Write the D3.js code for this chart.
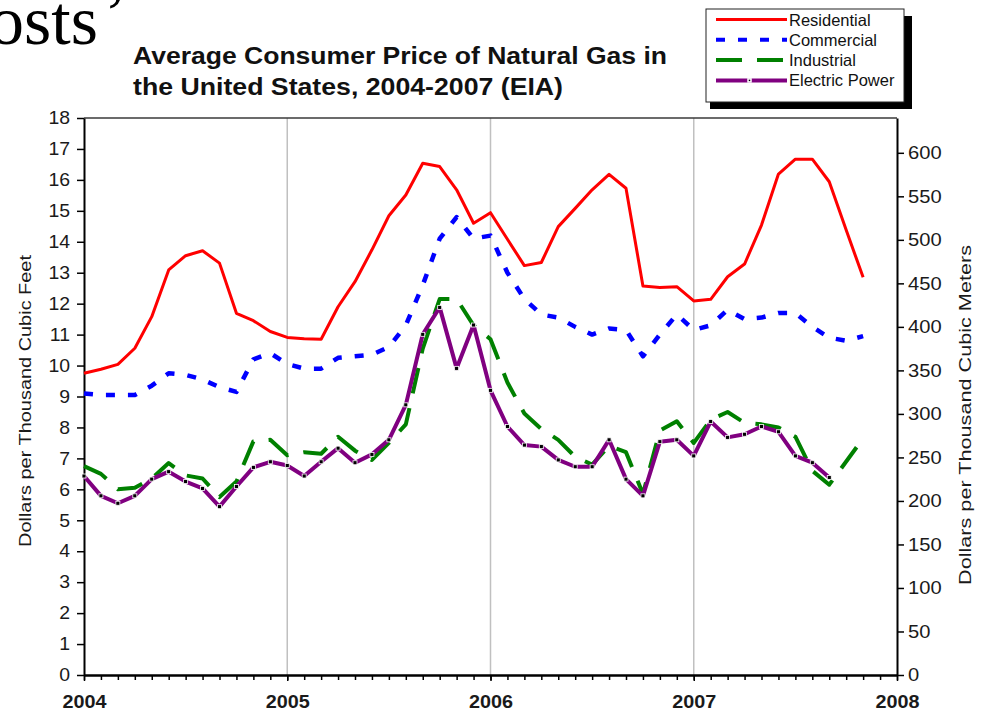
<!DOCTYPE html>
<html>
<head>
<meta charset="utf-8">
<script src="https://cdn.jsdelivr.net/npm/d3@7"></script>
<style>
  body { margin: 0; background: #fff; }
  svg { display: block; font-family: 'Liberation Sans', Arial, sans-serif; }
</style>
</head>
<body>
<div id="chart"></div>
<script>
// monthly prices, dollars per thousand cubic feet, starting Jan 2004
var yearLabels = ['2004', '2005', '2006', '2007', '2008'];
var seriesNames = ['Residential', 'Commercial', 'Industrial', 'Electric Power'];

var residential = [9.75, 9.88, 10.04, 10.56, 11.58, 13.09, 13.55, 13.71, 13.31, 11.69, 11.45, 11.10,
  10.91, 10.87, 10.85, 11.90, 12.71, 13.74, 14.84, 15.51, 16.54, 16.43, 15.68, 14.60,
  14.94, 14.08, 13.23, 13.33, 14.49, 15.08, 15.68, 16.18, 15.73, 12.57, 12.52, 12.55,
  12.09, 12.14, 12.87, 13.28, 14.54, 16.19, 16.67, 16.67, 15.94, 14.38, 12.85];

var commercial = [9.10, 9.05, 9.05, 9.05, 9.35, 9.75, 9.70, 9.55, 9.30, 9.15, 10.20, 10.40,
  10.05, 9.90, 9.90, 10.25, 10.30, 10.35, 10.60, 11.30, 12.60, 14.10, 14.80, 14.10,
  14.20, 13.00, 12.15, 11.65, 11.55, 11.25, 11.00, 11.20, 11.15, 10.30, 11.00, 11.65,
  11.15, 11.30, 11.80, 11.50, 11.55, 11.70, 11.70, 11.25, 10.90, 10.80, 10.95];

var industrial = [6.75, 6.50, 6.00, 6.05, 6.35, 6.85, 6.45, 6.35, 5.75, 6.25, 7.55, 7.60,
  7.10, 7.20, 7.15, 7.70, 7.25, 6.95, 7.50, 8.10, 10.55, 12.15, 12.15, 11.30,
  10.85, 9.45, 8.45, 7.95, 7.60, 7.05, 6.80, 7.40, 7.20, 5.85, 7.90, 8.20,
  7.50, 8.25, 8.50, 8.15, 8.10, 8.00, 7.70, 6.60, 6.15, 6.90, 7.65];

var electricPower = [6.43, 5.79, 5.55, 5.79, 6.33, 6.57, 6.25, 6.03, 5.44, 6.09, 6.71, 6.89,
  6.77, 6.43, 6.89, 7.33, 6.86, 7.13, 7.60, 8.73, 11.01, 11.88, 9.91, 11.31,
  9.20, 8.03, 7.43, 7.38, 6.95, 6.73, 6.73, 7.60, 6.33, 5.79, 7.54, 7.60,
  7.08, 8.19, 7.68, 7.78, 8.03, 7.86, 7.08, 6.86, 6.38];

var leftTicks = d3.range(0, 19, 1);
var rightTicks = d3.range(0, 601, 50);

var width = 985, height = 712;
var plot = {left: 84, right: 897, top: 118, bottom: 675};
var stretch = 1.08; // the source picture is a little wider than tall

var svg = d3.select('#chart').append('svg')
    .attr('width', width)
    .attr('height', height);

var x = d3.scaleLinear().domain([0, 48]).range([plot.left, plot.right]),
    y = d3.scaleLinear().domain([0, 18]).range([plot.bottom, plot.top]),
    yRight = d3.scaleLinear().domain([0, 640]).range([plot.bottom, plot.top]);

var series = [
  {name: seriesNames[0], values: residential, color: '#ff0000', width: 3, dash: null},
  {name: seriesNames[1], values: commercial, color: '#0000ff', width: 4.5, dash: '9,13'},
  {name: seriesNames[2], values: industrial, color: '#008000', width: 4, dash: '26,15'},
  {name: seriesNames[3], values: electricPower, color: '#800080', width: 4, dash: null, markers: true}
];

// slide text behind the chart, cut off at the left
var slideText = svg.append('text')
    .attr('transform', 'translate(-11,44)')
    .style('font-family', "'Liberation Serif', 'Times New Roman', serif")
    .style('font-size', '70px');
slideText.append('tspan').text('osts');
slideText.append('tspan').attr('dx', 6).attr('dy', -7).text('\u2019');

// title
var title = svg.append('g').style('font-weight', 'bold').style('font-size', '23.5px').style('fill', '#111');
title.append('text').attr('x', 133).attr('y', 64)
    .attr('textLength', 534).attr('lengthAdjust', 'spacingAndGlyphs')
    .text('Average Consumer Price of Natural Gas in');
title.append('text').attr('x', 133).attr('y', 95)
    .attr('textLength', 430).attr('lengthAdjust', 'spacingAndGlyphs')
    .text('the United States, 2004-2007 (EIA)');

// year gridlines
svg.append('g').selectAll('line')
    .data([12, 24, 36])
  .enter().append('line')
    .attr('x1', function(d) { return x(d); })
    .attr('x2', function(d) { return x(d); })
    .attr('y1', plot.top)
    .attr('y2', plot.bottom)
    .style('stroke', '#c0c0c0')
    .style('stroke-width', 1.5);

// top border
svg.append('line')
    .attr('x1', plot.left).attr('x2', plot.right)
    .attr('y1', plot.top).attr('y2', plot.top)
    .style('stroke', '#3a3a3a')
    .style('stroke-width', 1.5);

// axes
var leftAxis = svg.append('g')
    .attr('transform', 'translate(' + plot.left + ',0)')
    .call(d3.axisLeft(y).tickValues(leftTicks).tickSize(7).tickSizeOuter(0).tickPadding(7));

var rightAxis = svg.append('g')
    .attr('transform', 'translate(' + plot.right + ',0)')
    .call(d3.axisRight(yRight).tickValues(rightTicks).tickSize(7).tickSizeOuter(0).tickPadding(4));

var minorAxis = svg.append('g')
    .attr('transform', 'translate(0,' + plot.bottom + ')')
    .call(d3.axisBottom(x).tickValues(d3.range(0, 49)).tickSize(5).tickSizeOuter(0).tickFormat(''));

var bottomAxis = svg.append('g')
    .attr('transform', 'translate(0,' + plot.bottom + ')')
    .call(d3.axisBottom(x).tickValues([0, 12, 24, 36, 48]).tickSize(6).tickSizeOuter(0).tickPadding(14)
      .tickFormat(function(d) { return yearLabels[d / 12]; }));

[leftAxis, rightAxis, minorAxis, bottomAxis].forEach(function(a) {
  a.select('.domain').style('stroke', '#000').style('stroke-width', 2);
  a.selectAll('.tick line').style('stroke', '#000').style('stroke-width', 1.5);
  a.selectAll('.tick text')
      .style('font-family', "'Liberation Sans', Arial, sans-serif")
      .style('font-size', '18px')
      .style('fill', '#1a1a1a');
});

leftAxis.selectAll('.tick text').attr('transform', 'scale(' + stretch + ',1)').attr('x', -14 / stretch);
rightAxis.selectAll('.tick text').attr('transform', 'scale(1.12,1)').attr('x', 11 / 1.12);
bottomAxis.selectAll('.tick text')
    .style('font-weight', 'bold')
    .attr('transform', 'scale(1.1,1)');

// axis titles
svg.append('text')
    .attr('transform', 'translate(31,401) rotate(-90)')
    .attr('text-anchor', 'middle')
    .attr('textLength', 292).attr('lengthAdjust', 'spacingAndGlyphs')
    .style('font-size', '17px')
    .style('fill', '#1a1a1a')
    .text('Dollars per Thousand Cubic Feet');

svg.append('text')
    .attr('transform', 'translate(971,415) rotate(-90)')
    .attr('text-anchor', 'middle')
    .attr('textLength', 340).attr('lengthAdjust', 'spacingAndGlyphs')
    .style('font-size', '17px')
    .style('fill', '#1a1a1a')
    .text('Dollars per Thousand Cubic Meters');

// series lines
var line = d3.line()
    .x(function(d, i) { return x(i); })
    .y(function(d) { return y(d); });

svg.append('g').selectAll('path')
    .data(series)
  .enter().append('path')
    .attr('d', function(d) { return line(d.values); })
    .style('fill', 'none')
    .style('stroke', function(d) { return d.color; })
    .style('stroke-width', function(d) { return d.width; })
    .style('stroke-dasharray', function(d) { return d.dash; })
    .style('stroke-linejoin', 'round');

// markers on electric power
svg.append('g').selectAll('rect')
    .data(electricPower)
  .enter().append('rect')
    .attr('x', function(d, i) { return x(i) - 2; })
    .attr('y', function(d) { return y(d) - 2; })
    .attr('width', 4)
    .attr('height', 4)
    .style('fill', '#000')
    .style('stroke', '#fff')
    .style('stroke-width', 0.8);

// legend with drop shadow
var legend = svg.append('g');
legend.append('rect')
    .attr('x', 710).attr('y', 16).attr('width', 202).attr('height', 93)
    .style('fill', '#000');
legend.append('rect')
    .attr('x', 706).attr('y', 9).attr('width', 198).attr('height', 93)
    .style('fill', '#fff')
    .style('stroke', '#222')
    .style('stroke-width', 1);

var rows = legend.selectAll('.legend')
    .data(series)
  .enter().append('g')
    .attr('class', 'legend')
    .attr('transform', function(d, i) { return 'translate(0,' + (19.5 + i * 20.3) + ')'; });

rows.append('line')
    .attr('x1', 716).attr('x2', 787)
    .style('stroke', function(d) { return d.color; })
    .style('stroke-width', function(d) { return Math.min(d.width, 4); })
    .style('stroke-dasharray', function(d) { return d.dash; });

rows.filter(function(d) { return d.markers; }).append('rect')
    .attr('x', 748).attr('y', -1.5).attr('width', 3).attr('height', 3)
    .style('fill', '#000')
    .style('stroke', '#fff')
    .style('stroke-width', 1.5);

rows.append('text')
    .attr('x', 789)
    .attr('y', 6)
    .style('font-size', '16.5px')
    .style('fill', '#111')
    .text(function(d) { return d.name; });
</script>
</body>
</html>
